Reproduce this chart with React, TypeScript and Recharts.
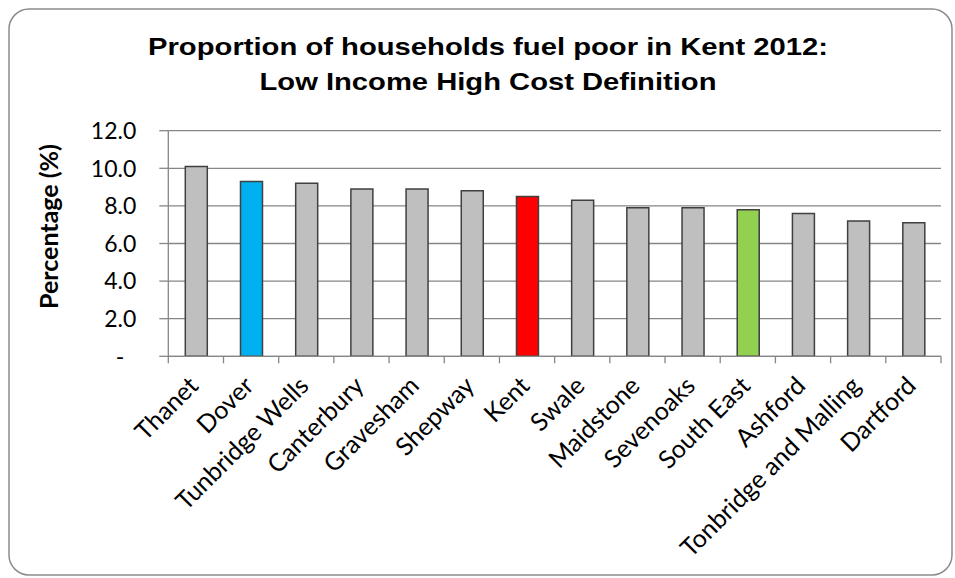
import React from 'react';
import { BarChart, Bar, XAxis, YAxis, CartesianGrid, Cell } from 'recharts';

const categories = [
  'Thanet', 'Dover', 'Tunbridge Wells', 'Canterbury', 'Gravesham', 'Shepway', 'Kent',
  'Swale', 'Maidstone', 'Sevenoaks', 'South East', 'Ashford', 'Tonbridge and Malling', 'Dartford',
];
const percentages = [10.1, 9.3, 9.2, 8.9, 8.9, 8.8, 8.5, 8.3, 7.9, 7.9, 7.8, 7.6, 7.2, 7.1];
const yTicks = [0, 2, 4, 6, 8, 10, 12];
const titleLines = ['Proportion of households fuel poor in Kent 2012:', 'Low Income High Cost Definition'];
const yAxisTitle = 'Percentage (%)';

const highlightColors: Record<string, string> = {
  Dover: '#00B0F0',
  Kent: '#FF0000',
  'South East': '#92D050',
};
const defaultColor = '#BFBFBF';

const data = categories.map((name, i) => ({ name, value: percentages[i] }));

const AXIS = '#868686';
const FONT = 'Lato, "Open Sans", sans-serif';

const XTick = (props: any) => {
  const { x, y, payload, index } = props;
  const half = payload && payload.offset ? payload.offset : 27.6;
  const last = index === categories.length - 1;
  return (
    <g>
      <line x1={x - half} x2={x - half} y1={y} y2={y + 7} stroke={AXIS} strokeWidth={1.3} />
      {last && <line x1={x + half} x2={x + half} y1={y} y2={y + 7} stroke={AXIS} strokeWidth={1.3} />}
      <text
        x={x + 4}
        y={y + 31}
        transform={`rotate(-45, ${x + 4}, ${y + 31})`}
        textAnchor="end"
        fontFamily={FONT}
        fontSize={25}
        fill="#000"
      >
        {payload.value}
      </text>
    </g>
  );
};

const YTick = (props: any) => {
  const { x, y, payload } = props;
  const v = payload.value;
  const label = v === 0 ? '-' : v.toFixed(1);
  return (
    <text
      x={v === 0 ? x - 12 : x}
      y={y}
      dy="0.36em"
      textAnchor="end"
      fontFamily={FONT}
      fontSize={23}
      fill="#000"
    >
      {label}
    </text>
  );
};

export default function App() {
  return (
    <div style={{ position: 'absolute', left: 0, top: 0, width: 955, height: 578, background: '#fff' }}>
      <svg width={955} height={578} style={{ position: 'absolute', left: 0, top: 0 }}>
        <rect x={9} y={9} width={943} height={566} rx={20} ry={20} fill="#fff" stroke="#8c8c8c" strokeWidth={1.5} />
        <text
          x={488}
          y={55}
          textAnchor="middle"
          fontFamily='"Liberation Sans", Arial, sans-serif'
          fontWeight="bold"
          fontSize={24}
          textLength={680}
          lengthAdjust="spacingAndGlyphs"
          fill="#000"
        >
          {titleLines[0]}
        </text>
        <text
          x={488}
          y={90}
          textAnchor="middle"
          fontFamily='"Liberation Sans", Arial, sans-serif'
          fontWeight="bold"
          fontSize={24}
          textLength={457}
          lengthAdjust="spacingAndGlyphs"
          fill="#000"
        >
          {titleLines[1]}
        </text>
        <text
          x={58}
          y={226.5}
          transform="rotate(-90, 58, 226.5)"
          textAnchor="middle"
          fontFamily={FONT}
          fontWeight="bold"
          fontSize={25}
          fill="#000"
        >
          {yAxisTitle}
        </text>
      </svg>
      <div style={{ position: 'absolute', left: 0, top: 0 }}>
        <BarChart
          width={955}
          height={578}
          data={data}
          margin={{ top: 130.7, right: 14, bottom: 71.7, left: 108.3 }}
        >
          <CartesianGrid horizontal={true} vertical={false} stroke={AXIS} strokeWidth={1.3} />
          <XAxis
            dataKey="name"
            interval={0}
            tickSize={0}
            tickMargin={0}
            tickLine={false}
            axisLine={{ stroke: AXIS, strokeWidth: 1.3 }}
            height={150}
            tick={<XTick />}
          />
          <YAxis
            type="number"
            domain={[0, 12]}
            ticks={yTicks}
            width={60}
            tickSize={9}
            tickMargin={23}
            interval={0}
            axisLine={{ stroke: AXIS, strokeWidth: 1.3 }}
            tickLine={{ stroke: AXIS, strokeWidth: 1.3 }}
            tick={<YTick />}
          />
          <Bar dataKey="value" barSize={22} stroke="#404040" strokeWidth={1.5} isAnimationActive={false}>
            {data.map((d) => (
              <Cell key={d.name} fill={highlightColors[d.name] || defaultColor} />
            ))}
          </Bar>
        </BarChart>
      </div>
    </div>
  );
}
